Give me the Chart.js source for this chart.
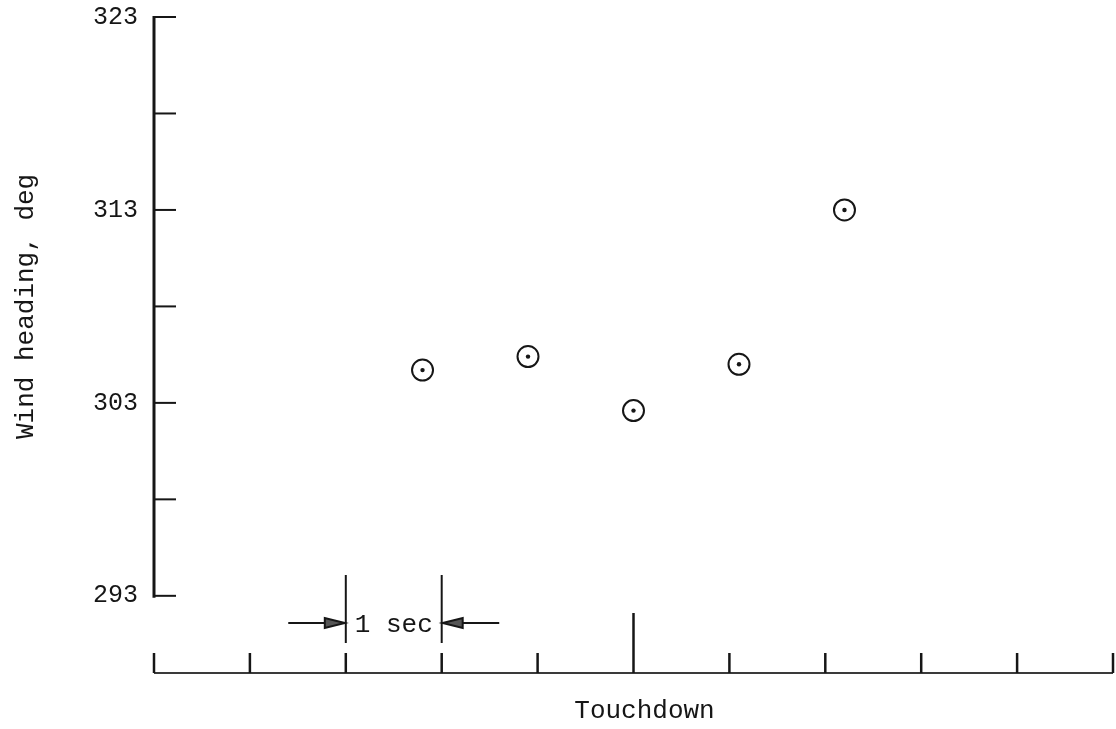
<!DOCTYPE html>
<html>
<head>
<meta charset="utf-8">
<script src="https://cdn.jsdelivr.net/npm/chart.js@4.4.0/dist/chart.umd.min.js"></script>
<style>
  body { margin: 0; background: #fff; }
</style>
</head>
<body>
<canvas id="myChart" width="1116" height="729"></canvas>
<script>
// seconds relative to touchdown
const timeSec = [-2.2, -1.1, 0, 1.1, 2.2]
const windHeading = [304.7, 305.4, 302.6, 305.0, 313.0]

const yTickValues = [293, 298, 303, 308, 313, 318, 323]
const yTickLabels = [293, 303, 313, 323]
const xTickValues = [-5, -4, -3, -2, -1, 0, 1, 2, 3, 4, 5]

const fontName = "'Liberation Mono', 'DejaVu Sans Mono', monospace"
const ink = '#161616'

const drawAxes = {
    id: 'drawAxes',
    afterDraw(chart) {
        const ctx = chart.ctx
        const x = chart.scales.x
        const y = chart.scales.y
        ctx.save()
        ctx.strokeStyle = ink
        ctx.lineCap = 'butt'

        // y axis line, ticks pointing in
        ctx.lineWidth = 3
        ctx.beginPath()
        ctx.moveTo(x.left, y.getPixelForValue(323) - 1)
        ctx.lineTo(x.left, y.getPixelForValue(293) + 2)
        ctx.stroke()
        ctx.lineWidth = 2
        yTickValues.forEach(v => {
            const py = y.getPixelForValue(v)
            ctx.beginPath()
            ctx.moveTo(x.left, py)
            ctx.lineTo(x.left + 22, py)
            ctx.stroke()
        })

        // time axis under the plot
        const base = y.bottom
        ctx.strokeStyle = '#3a3a3a'
        ctx.lineWidth = 2
        ctx.beginPath()
        ctx.moveTo(x.left, base)
        ctx.lineTo(x.right, base)
        ctx.stroke()
        ctx.strokeStyle = ink
        ctx.lineWidth = 2.5
        xTickValues.forEach(v => {
            const px = x.getPixelForValue(v)
            ctx.beginPath()
            ctx.moveTo(px, base)
            ctx.lineTo(px, base - (v === 0 ? 60 : 20))
            ctx.stroke()
        })

        // "1 sec" marker
        const a = x.getPixelForValue(-3)
        const b = x.getPixelForValue(-2)
        ctx.lineWidth = 2
        ;[a, b].forEach(px => {
            ctx.beginPath()
            ctx.moveTo(px, base - 98)
            ctx.lineTo(px, base - 30)
            ctx.stroke()
        })
        const ay = base - 50
        arrow(ctx, x.getPixelForValue(-3.6), a - 1, ay)
        arrow(ctx, x.getPixelForValue(-1.4), b + 1, ay)

        ctx.fillStyle = ink
        ctx.font = '26px ' + fontName
        ctx.textAlign = 'center'
        ctx.textBaseline = 'alphabetic'
        ctx.fillText('1 sec', (a + b) / 2, base - 41)
        ctx.fillText('Touchdown', x.getPixelForValue(0) + 11, base + 45)

        // y title
        ctx.translate(33, (y.getPixelForValue(293) + y.getPixelForValue(323)) / 2)
        ctx.rotate(-Math.PI / 2)
        ctx.fillText('Wind heading, deg', 0, 0)
        ctx.restore()
    }
}

function arrow(ctx, from, to, py) {
    const dir = to > from ? 1 : -1
    ctx.beginPath()
    ctx.moveTo(from, py)
    ctx.lineTo(to - dir * 14, py)
    ctx.stroke()
    ctx.beginPath()
    ctx.moveTo(to, py)
    ctx.lineTo(to - dir * 20, py - 5)
    ctx.lineTo(to - dir * 20, py + 5)
    ctx.closePath()
    ctx.fillStyle = '#555'
    ctx.fill()
    ctx.stroke()
}

const points = timeSec.map((t, i) => ({ x: t, y: windHeading[i] }))

new Chart(document.getElementById('myChart'), {
    type: 'scatter',
    data: {
        datasets: [{
            label: 'centre',
            data: points,
            order: 0,
            pointRadius: 2.2,
            pointBorderWidth: 0,
            pointBackgroundColor: ink
        }, {
            label: 'Wind heading',
            data: points,
            order: 1,
            pointRadius: 10.5,
            pointBorderWidth: 2,
            pointBorderColor: ink,
            pointBackgroundColor: '#fff'
        }]
    },
    options: {
        responsive: false,
        animation: false,
        layout: { autoPadding: false, padding: { top: 17, right: 3, left: 0, bottom: 0 } },
        plugins: { legend: { display: false }, tooltip: { enabled: false } },
        scales: {
            x: {
                type: 'linear',
                min: -5,
                max: 5,
                grid: { display: false, drawTicks: false },
                border: { display: false },
                ticks: { display: false },
                afterFit(scale) {
                    scale.height = 56
                    scale.paddingLeft = 0
                    scale.paddingRight = 0
                }
            },
            y: {
                min: 289,
                max: 323,
                grid: { display: false, drawTicks: false },
                border: { display: false },
                afterBuildTicks(scale) {
                    scale.ticks = yTickValues.map(v => ({ value: v }))
                },
                ticks: {
                    padding: 16,
                    color: ink,
                    font: { family: fontName, size: 25 },
                    callback: v => yTickLabels.includes(v) ? String(v) : ''
                },
                afterFit(scale) {
                    scale.width = 154
                    scale.paddingTop = 0
                    scale.paddingBottom = 0
                }
            }
        }
    },
    plugins: [drawAxes]
})
</script>
</body>
</html>
